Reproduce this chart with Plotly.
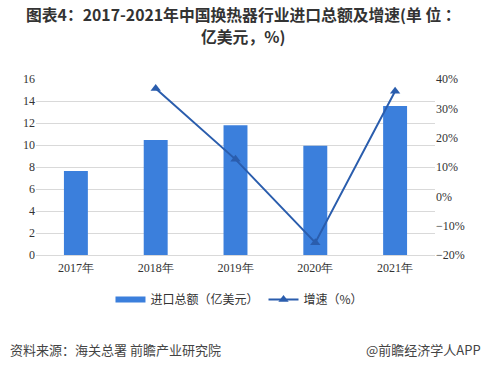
import plotly.graph_objects as go

years = ["2017年", "2018年", "2019年", "2020年", "2021年"]
import_total = [7.64, 10.45, 11.8, 9.94, 13.55]
growth_years = ["2018年", "2019年", "2020年", "2021年"]
growth_rate = [36.8, 12.6, -15.8, 35.8]

W, H = 486, 369
L, R, T, B = 36, 51, 79, 114
bar_color = "#3B7FDC"
line_color = "#2A5DAD"

fig = go.Figure()
fig.add_trace(go.Bar(
    x=years, y=import_total, name="进口总额（亿美元）", showlegend=False,
    marker=dict(color=bar_color, line=dict(width=0)), width=0.3,
))
# legend swatch for the bars (wide flat rectangle as in the reference)
fig.add_trace(go.Scatter(
    x=[None], y=[None], name="进口总额（亿美元）", mode="lines",
    line=dict(color=bar_color, width=6),
))
fig.add_trace(go.Scatter(
    x=growth_years, y=growth_rate, name="增速（%）", yaxis="y2",
    mode="lines+markers",
    line=dict(color=line_color, width=2),
    marker=dict(symbol="triangle-up", size=9, color=line_color),
))

serif = "Liberation Serif"
sans = "Noto Sans CJK SC"

fig.update_layout(
    width=W, height=H,
    margin=dict(l=L, r=R, t=T, b=B),
    plot_bgcolor="white", paper_bgcolor="white",
    showlegend=True,
    legend=dict(orientation="h", x=0.51, xanchor="center", y=-0.17, yanchor="top",
                font=dict(family=sans, size=12, color="#333333"),
                itemwidth=30, tracegroupgap=0),
    xaxis=dict(type="category", tickfont=dict(family=serif, size=12, color="#333333"),
               showgrid=False, showline=False, ticks="", ticklabelstandoff=4),
    yaxis=dict(range=[0, 16], dtick=2, showgrid=True, gridcolor="#D9D9D9", gridwidth=1,
               zeroline=True, zerolinecolor="#D9D9D9", zerolinewidth=1,
               tickfont=dict(family=serif, size=12, color="#333333"), ticks=""),
    yaxis2=dict(range=[-20, 40], dtick=10, overlaying="y", side="right", showgrid=False,
                zeroline=False, ticksuffix="%",
                tickfont=dict(family=serif, size=12, color="#333333"), ticks=""),
    bargap=0.7,
)

pw, ph = W - L - R, H - T - B
fig.add_annotation(text="<b>图表4：2017-2021年中国换热器行业进口总额及增速(单 位 ：</b>",
                   xref="paper", yref="paper", x=(243 - L) / pw, y=1 + (T - 15) / ph,
                   xanchor="center", yanchor="middle", showarrow=False,
                   font=dict(family=sans, size=15.8, color="#333333"))
fig.add_annotation(text="<b>亿美元，%)</b>",
                   xref="paper", yref="paper", x=(243 - L) / pw, y=1 + (T - 37) / ph,
                   xanchor="center", yanchor="middle", showarrow=False,
                   font=dict(family=sans, size=15.8, color="#333333"))
fig.add_annotation(text="资料来源：海关总署 前瞻产业研究院",
                   xref="paper", yref="paper", x=-(L - 8) / pw, y=-(349 - (H - B)) / ph,
                   xanchor="left", yanchor="middle", showarrow=False,
                   font=dict(family=sans, size=13, color="#444444"))
fig.add_annotation(text="@前瞻经济学人APP",
                   xref="paper", yref="paper", x=1 + (R - 3) / pw, y=-(349 - (H - B)) / ph,
                   xanchor="right", yanchor="middle", showarrow=False,
                   font=dict(family=sans, size=13, color="#444444"))

fig.write_html("out.html", config={"displayModeBar": False},
               post_script="document.body.style.margin='0';")
